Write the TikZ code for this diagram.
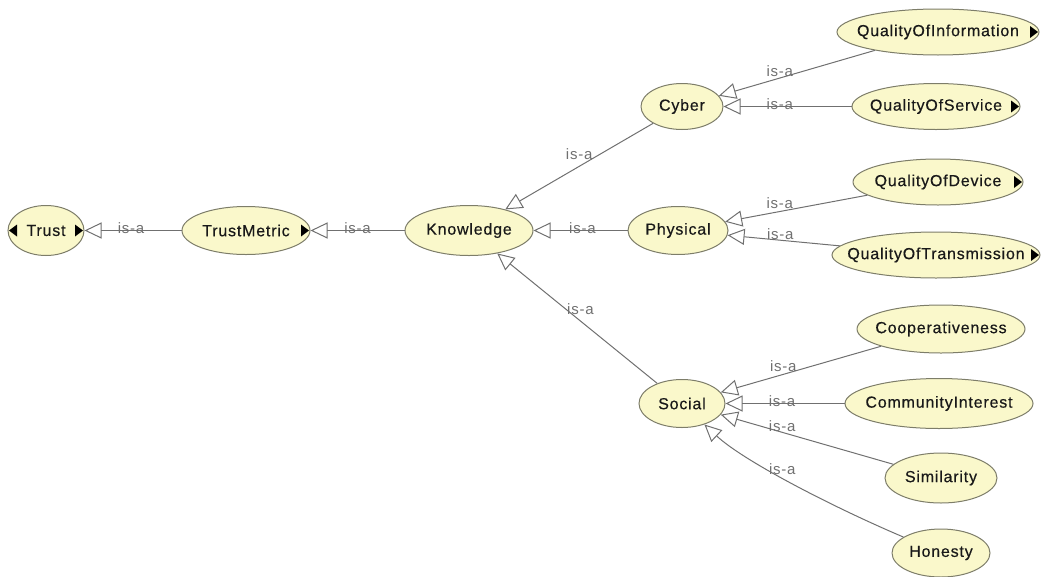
\documentclass[tikz,border=0pt]{standalone}
\usepackage{fontspec}
\newfontfamily\nodefont{Liberation Sans}[LetterSpace=5,FakeBold=0.4]
\newfontfamily\labelfont{Liberation Sans}[LetterSpace=5]
\usetikzlibrary{shapes.geometric,arrows.meta,calc}
\definecolor{classfill}{RGB}{250,248,203}
\definecolor{classdraw}{RGB}{125,125,105}
\definecolor{edgegray}{RGB}{112,112,112}
% class name set in a zero-width box, so the ellipse keeps its given size
\newcommand\cname[1]{\makebox[0pt]{#1}}
\begin{document}
\begin{tikzpicture}[x=1pt,y=-1pt,
  cls/.style={ellipse, draw=classdraw, fill=classfill, line width=1pt, inner sep=0pt,
    font=\nodefont\fontsize{16}{18}\selectfont, text=black!90},
  isa/.style={draw=edgegray, line width=1pt, -{Triangle[open,length=17pt,width=16pt]}},
  lbl/.style={inner sep=0pt, text=edgegray, font=\labelfont\fontsize{15}{17}\selectfont}
]
\useasboundingbox (0,0) rectangle (1044,576);

% class nodes
\node[cls, minimum width=76pt,  minimum height=50pt] (trust) at (46,230.5)  {\cname{Trust}};
\node[cls, minimum width=128pt, minimum height=48pt] (tm)    at (246,230.5) {\cname{TrustMetric}};
\node[cls, minimum width=128pt, minimum height=50pt] (kn)    at (469,230.5) {\cname{Knowledge}};
\node[cls, minimum width=82pt,  minimum height=46pt] (cyber) at (682,106.5) {\cname{Cyber}};
\node[cls, minimum width=100pt, minimum height=48pt] (phys)  at (678,230.5) {\cname{Physical}};
\node[cls, minimum width=86pt,  minimum height=48pt] (soc)   at (682,403.5) {\cname{Social}};
\node[cls, minimum width=202pt, minimum height=46pt] (qoi)   at (938,32)    {\cname{QualityOfInformation}};
\node[cls, minimum width=168pt, minimum height=46pt] (qos)   at (936,106.5) {\cname{QualityOfService}};
\node[cls, minimum width=170pt, minimum height=46pt] (qod)   at (938,182)   {\cname{QualityOfDevice}};
\node[cls, minimum width=208pt, minimum height=46pt] (qot)   at (936,255)   {\cname{QualityOfTransmission}};
\node[cls, minimum width=168pt, minimum height=48pt] (coop)  at (941,329)   {\cname{Cooperativeness}};
\node[cls, minimum width=188pt, minimum height=50pt] (ci)    at (939,403.5) {\cname{CommunityInterest}};
\node[cls, minimum width=112pt, minimum height=50pt] (sim)   at (941,478)   {\cname{Similarity}};
\node[cls, minimum width=98pt,  minimum height=48pt] (hon)   at (941,553)   {\cname{Honesty}};

% expand/collapse markers
\fill ([xshift=1.5pt]trust.west) -- ++(8,-6) -- ++(0,12) -- cycle;
\foreach \n in {trust,tm,qoi,qos,qod,qot}
  \fill ([xshift=-1.5pt]\n.east) -- ++(-8,-6) -- ++(0,12) -- cycle;

% is-a edges
\draw[isa] (tm) -- node[lbl, pos=0.52, yshift=2pt] {is-a} (trust);
\draw[isa] (kn) -- node[lbl, pos=0.5, yshift=2pt] {is-a} (tm);
\draw[isa] (phys) -- node[lbl, pos=0.48, yshift=2pt] {is-a} (kn);
\draw[isa] (cyber) -- node[lbl, pos=0.5, yshift=12pt] {is-a} (kn);
\draw[isa] (soc) -- node[lbl, pos=0.48, yshift=12pt] {is-a} (kn);
\draw[isa] (qoi) -- node[lbl, pos=0.61, yshift=7pt] {is-a} (cyber);
\draw[isa] (qos) -- node[lbl, pos=0.56, yshift=2pt] {is-a} (cyber);
\draw[isa] (qod) -- node[lbl, pos=0.615, yshift=8pt] {is-a} (phys);
\draw[isa] (qot) -- node[lbl, pos=0.53, yshift=6pt] {is-a} (phys);
\draw[isa] (coop) -- node[lbl, pos=0.61, yshift=8pt] {is-a} (soc);
\draw[isa] (ci) -- node[lbl, pos=0.525, yshift=2pt] {is-a} (soc);
\draw[isa] (sim) -- node[lbl, pos=0.644, yshift=6pt] {is-a} (soc);
\draw[isa] (hon) .. controls ($(hon)+(-106,-45)$) and ($(soc)+(62,58)$) ..
  node[lbl, pos=0.55, yshift=9pt] {is-a} (soc);
\end{tikzpicture}
\end{document}
